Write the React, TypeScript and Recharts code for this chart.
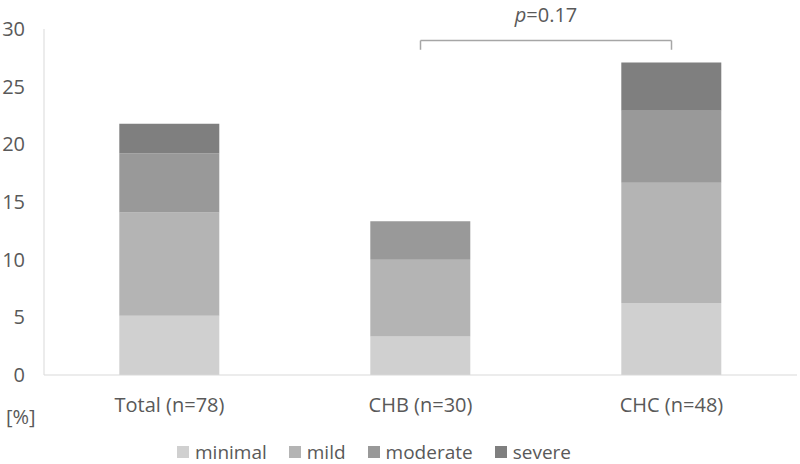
import React from 'react';
import { BarChart, Bar, XAxis, YAxis, Legend, ReferenceLine, Label } from 'recharts';

const categories = ['Total (n=78)', 'CHB (n=30)', 'CHC (n=48)'];
const minimal = [5.13, 3.33, 6.25];
const mild = [8.97, 6.67, 10.42];
const moderate = [5.13, 3.33, 6.25];
const severe = [2.56, 0, 4.17];
const yTicks = [0, 5, 10, 15, 20, 25, 30];
const seriesNames = ['minimal', 'mild', 'moderate', 'severe'];
const seriesColors = ['#d0d0d0', '#b4b4b4', '#999999', '#7f7f7f'];
const bracketY = 29;
const bracketFoot = 28.2;
const pLabel = '0.17';

const data = categories.map((c, i) => ({
  name: c,
  minimal: minimal[i],
  mild: mild[i],
  moderate: moderate[i],
  severe: severe[i],
}));

const FONT = "'Open Sans', 'Noto Sans', sans-serif";
const TXT = '#595959';

const LegendContent = (props: any) => {
  const payload = (props.payload || []).slice().sort(
    (a: any, b: any) => seriesNames.indexOf(a.value) - seriesNames.indexOf(b.value)
  );
  return (
    <div style={{ display: 'flex', fontFamily: FONT, fontSize: 19, color: TXT, lineHeight: '24px' }}>
      {payload.map((p: any, i: number) => (
        <div key={i} style={{ display: 'flex', alignItems: 'center', marginRight: 22 }}>
          <span style={{ display: 'inline-block', width: 12, height: 12, background: p.color, marginRight: 6 }} />
          <span>{p.value}</span>
        </div>
      ))}
    </div>
  );
};

export default function App() {
  return (
    <div style={{ position: 'absolute', left: 0, top: 0, width: 800, height: 464, background: '#fff' }}>
      <BarChart
        width={800}
        height={464}
        data={data}
        margin={{ top: 29, right: 3, bottom: 15, left: 0 }}
        barCategoryGap="30%"
      >
        <XAxis
          dataKey="name"
          axisLine={{ stroke: '#d9d9d9' }}
          tickLine={false}
          tickMargin={17}
          height={50}
          tick={{ fill: TXT, fontSize: 20, fontFamily: FONT }}
        />
        <YAxis
          domain={[0, 30]}
          ticks={yTicks}
          width={44}
          axisLine={{ stroke: '#d9d9d9' }}
          tickLine={false}
          tickMargin={13}
          tick={{ fill: TXT, fontSize: 20, fontFamily: FONT }}
        >
          <Label
            content={() => (
              <text x={6} y={424} fill={TXT} fontSize={20} fontFamily={FONT}>[%]</text>
            )}
          />
        </YAxis>
        {seriesNames.map((s, i) => (
          <Bar key={s} dataKey={s} name={s} stackId="a" fill={seriesColors[i]} isAnimationActive={false} />
        ))}
        <ReferenceLine
          segment={[{ x: categories[1], y: bracketY }, { x: categories[2], y: bracketY }]}
          stroke="#a6a6a6"
          strokeWidth={1.5}
          ifOverflow="visible"
          label={(props: any) => {
            const vb = props.viewBox || {};
            const cx = (vb.x || 0) + (vb.width || 0) / 2;
            return (
              <text x={cx} y={(vb.y || 0) - 19} textAnchor="middle" fill={TXT} fontSize={20} fontFamily={FONT}>
                <tspan fontStyle="italic">p</tspan>={pLabel}
              </text>
            );
          }}
        />
        <ReferenceLine
          segment={[{ x: categories[1], y: bracketY }, { x: categories[1], y: bracketFoot }]}
          stroke="#a6a6a6"
          strokeWidth={1.5}
          ifOverflow="visible"
        />
        <ReferenceLine
          segment={[{ x: categories[2], y: bracketY }, { x: categories[2], y: bracketFoot }]}
          stroke="#a6a6a6"
          strokeWidth={1.5}
          ifOverflow="visible"
        />
        <Legend
          verticalAlign="bottom"
          content={<LegendContent />}
          wrapperStyle={{ left: 177, width: 'auto', bottom: 0 }}
        />
      </BarChart>
    </div>
  );
}
